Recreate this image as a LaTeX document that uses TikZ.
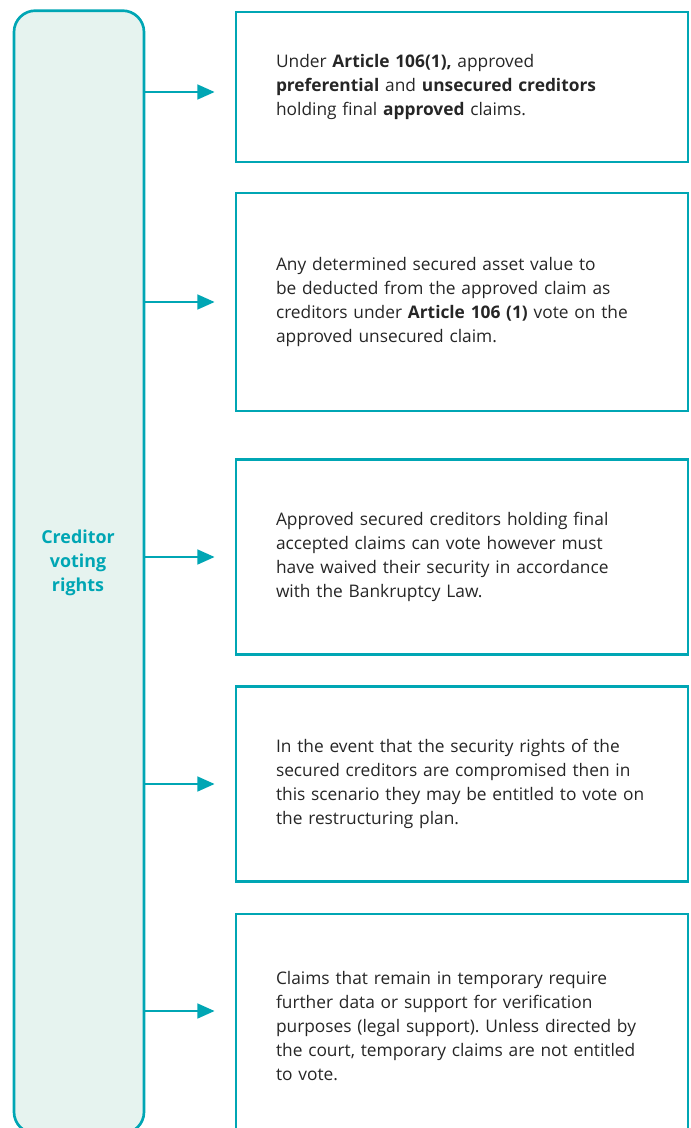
\documentclass[tikz,border=0pt]{standalone}
\usepackage{fontspec}
\setmainfont{Open Sans}
\usepackage{xcolor}
\usetikzlibrary{arrows.meta, positioning}
\frenchspacing

\definecolor{voteteal}{HTML}{00A6B4}
\definecolor{votefill}{HTML}{E6F3EF}
\definecolor{bodygray}{HTML}{262626}

\tikzset{
  infobox/.style={draw=voteteal, line width=2pt, minimum width=339pt,
    inner xsep=30pt, text width=279pt, align=left, text=bodygray,
    font=\fontsize{13}{18}\selectfont},
  flow/.style={draw=voteteal, line width=2pt,
    -{Triangle[length=13pt, width=11pt]}}
}

\begin{document}
\begin{tikzpicture}[x=0.75pt, y=-0.75pt]
  \useasboundingbox (0,0) rectangle (691,1128);

  % Left column
  \node[draw=voteteal, fill=votefill, line width=2pt, rounded corners=16pt,
        minimum width=97.5pt, minimum height=842pt, inner sep=0pt] (rights) at (79,572) {};
  \node[text=voteteal, align=center, font=\fontsize{13.4}{18}\selectfont\bfseries] (label) at (78,563)
    {Creditor\\voting\\rights};

  % Right boxes
  \node[infobox, minimum height=112.5pt] (box1) at (462,87)
    {Under \textbf{Article 106(1),} approved\\
     \textbf{preferential} and \textbf{unsecured creditors}\\
     holding final \textbf{approved} claims.};
  \node[infobox, minimum height=163.5pt] (box2) at (462,302)
    {Any determined secured asset value to\\
     be deducted from the approved claim as\\
     creditors under \textbf{Article 106 (1)} vote on the\\
     approved unsecured claim.};
  \node[infobox, minimum height=146pt] (box3) at (462,557)
    {Approved secured creditors holding final\\
     accepted claims can vote however must\\
     have waived their security in accordance\\
     with the Bankruptcy Law.};
  \node[infobox, minimum height=146pt] (box4) at (462,784)
    {In the event that the security rights of the\\
     secured creditors are compromised then in\\
     this scenario they may be entitled to vote on\\
     the restructuring plan.};
  \node[infobox, minimum height=168pt] (box5) at (462,1026)
    {Claims that remain in temporary require\\
     further data or support for verification\\
     purposes (legal support). Unless directed by\\
     the court, temporary claims are not entitled\\
     to vote.};

  % Arrows
  \coordinate (tip1) at ([xshift=-15pt, yshift=-3.75pt]box1.west);
  \draw[flow] (rights.east |- tip1) -- (tip1);
  \draw[flow] (rights.east |- box2.west) -- ([xshift=-15pt]box2.west);
  \draw[flow] (rights.east |- box3.west) -- ([xshift=-15pt]box3.west);
  \draw[flow] (rights.east |- box4.west) -- ([xshift=-15pt]box4.west);
  \coordinate (tip5) at ([xshift=-15pt, yshift=11.25pt]box5.west);
  \draw[flow] (rights.east |- tip5) -- (tip5);
\end{tikzpicture}
\end{document}
